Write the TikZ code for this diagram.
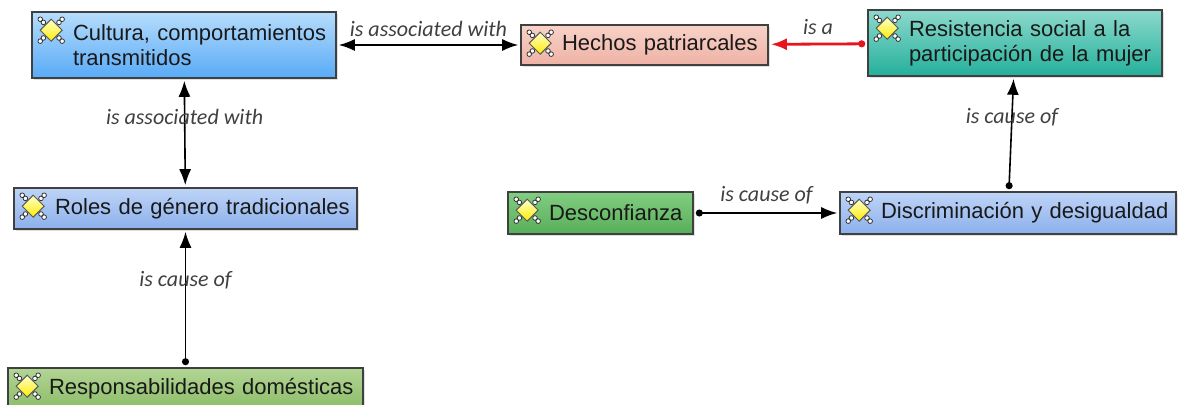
\documentclass[tikz,border=0pt]{standalone}
\usepackage{fontspec}
\setmainfont{Liberation Sans}
\newfontfamily\linkfont{Carlito}
\usetikzlibrary{arrows.meta}
\usetikzlibrary{shadows}

\definecolor{cblueT}{RGB}{182,221,252}
\definecolor{cblueB}{RGB}{88,170,247}
\definecolor{cpinkT}{RGB}{248,210,200}
\definecolor{cpinkB}{RGB}{238,178,165}
\definecolor{ctealT}{RGB}{140,217,204}
\definecolor{ctealB}{RGB}{36,176,155}
\definecolor{cpaleT}{RGB}{190,212,247}
\definecolor{cpaleB}{RGB}{140,176,236}
\definecolor{cgreenT}{RGB}{130,205,130}
\definecolor{cgreenB}{RGB}{88,174,88}
\definecolor{coliveT}{RGB}{178,213,148}
\definecolor{coliveB}{RGB}{140,188,104}
\definecolor{linkred}{RGB}{232,20,30}

\tikzset{
  concept/.style 2 args={draw=black!75, line width=0.8pt, align=left,
    text width={#1*0.5pt-6pt}, minimum height={#2*0.5pt},
    inner xsep=3pt, inner ysep=0pt, text=black!90,
    font=\fontsize{11}{12.5}\selectfont,
    execute at begin node={\leftskip=17.5pt\hyphenpenalty=10000},
    drop shadow={shadow xshift=1pt, shadow yshift=-1pt, opacity=0.25}},
  cblue/.style={top color=cblueT, bottom color=cblueB},
  cpink/.style={top color=cpinkT, bottom color=cpinkB},
  cteal/.style={top color=ctealT, bottom color=ctealB},
  cpale/.style={top color=cpaleT, bottom color=cpaleB},
  cgreen/.style={top color=cgreenT, bottom color=cgreenB},
  colive/.style={top color=coliveT, bottom color=coliveB},
  lbl/.style={font=\linkfont\itshape\fontsize{11}{13}\selectfont, text=black!75, inner sep=1pt},
  link/.style={line width=0.8pt, draw=black, shorten <=1pt, shorten >=1pt},
  cause/.style={link, {Circle[length=3.5pt]}-{Latex[length=8pt,width=6pt]}},
  both/.style={link, {Latex[length=8pt,width=6pt]}-{Latex[length=8pt,width=6pt]}},
  isa/.style={cause, draw=linkred, fill=linkred, line width=1.4pt},
  cicon/.pic={
    \foreach \a in {45,135,225,315}
      \draw[black!80, line width=0.4pt, fill=white] (\a:11) circle[radius=2.3] (\a:15.5) circle[radius=2.3];
    \draw[black!65, line width=0.5pt, top color=yellow!20, bottom color=yellow!85!orange]
      (0,-11) -- (11,0) -- (0,11) -- (-11,0) -- cycle;
  }
}

\begin{document}
\begin{tikzpicture}[x=0.5pt, y=-0.5pt]
\useasboundingbox (0,0) rectangle (1178,405);

\node[concept={304}{66}, cblue] (cultura) at (184,45) {Cultura, comportamientos\\transmitidos};
\node[concept={247}{40}, cpink] (hechos) at (644.5,45) {Hechos patriarcales};
\node[concept={294}{66}, cteal] (resist) at (1015,43) {Resistencia social a la\\participación de la mujer};
\node[concept={343}{41}, cpale] (roles) at (185.5,208.5) {Roles de género tradicionales};
\node[concept={185}{42}, cgreen] (desconf) at (600.5,213) {Desconfianza};
\node[concept={336}{42}, cpale] (discrim) at (1008,213) {Discriminación y desigualdad};
\node[concept={355}{42}, colive] (respons) at (185.5,389) {Responsabilidades domésticas};

\foreach \n in {cultura,hechos,resist,roles,desconf,discrim,respons}
  \pic at ([shift={(20,19)}]\n.north west) {cicon};

\draw[both] (cultura) -- (hechos) node[lbl, midway, above=3pt] {is associated with};
\draw[isa] (resist) -- (hechos) node[lbl, midway, above=3pt] {is a};
\draw[both] (roles) -- (cultura) node[lbl, pos=0.65] {is associated with};
\draw[cause] (respons) -- (roles) node[lbl, pos=0.63] {is cause of};
\draw[cause] (desconf) -- (discrim) node[lbl, midway, above=3pt] {is cause of};
\draw[cause] (discrim) -- (resist) node[lbl, pos=0.65] {is cause of};
\end{tikzpicture}
\end{document}
